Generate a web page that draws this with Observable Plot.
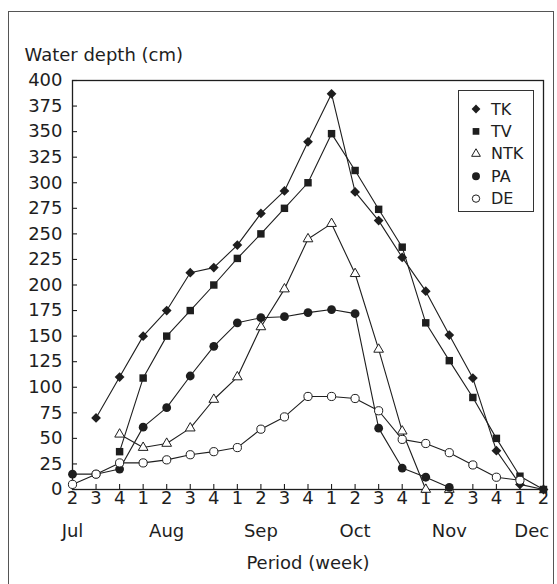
<!DOCTYPE html>
<html><head><meta charset="utf-8">
<script src="https://cdn.jsdelivr.net/npm/d3@7"></script>
<script src="https://cdn.jsdelivr.net/npm/@observablehq/plot@0.6"></script>
<style>
body{margin:0;background:#fff;}
#wrap{position:relative;width:557px;height:584px;overflow:hidden;font-family:"DejaVu Sans",sans-serif;color:#1e1e1e;background:#fff;}
#outer{position:absolute;left:8px;top:11px;width:544px;height:620px;border-left:1.3px solid #555;border-top:1.3px solid #555;border-right:1.3px solid #555;}
#chart{position:absolute;left:0;top:0;}
#legend{position:absolute;left:458px;top:90px;width:74px;height:120px;border:1.3px solid #333;background:#fff;}
</style></head><body>
<div id="wrap"><div id="outer"></div><div id="chart"></div><div id="legend"></div></div>
<script>
// ---- data ----
const weekLabels = ["2","3","4","1","2","3","4","1","2","3","4","1","2","3","4","1","2","3","4","1","2"];
const monthNames = ["Jul","Aug","Sep","Oct","Nov","Dec"];
const monthPos = [0, 4, 8, 12, 16, 19.5];
const yTicks = [0,25,50,75,100,125,150,175,200,225,250,275,300,325,350,375,400];
const seriesNames = ["TK","TV","NTK","PA","DE"];
const TK  = [null,70,110,150,175,212,217,239,270,292,340,387,291,263,227,194,151,109,38,5,0];
const TV  = [null,null,37,109,150,175,200,226,250,275,300,348,312,274,237,163,126,90,50,13,0];
const NTK = [null,null,54,41,45,60,88,110,159,196,245,260,211,137,57,0,0,null,null,null,null];
const PA  = [15,15,20,61,80,111,140,163,168,169,173,176,172,60,21,12,2,null,null,null,null];
const DE  = [5,15,26,26,29,34,37,41,59,71,91,91,89,77,49,45,36,24,12,9,null];

const seriesValues = {TK, TV, NTK, PA, DE};
const xIdx = weekLabels.map((d,i)=>i);
const data = [];
for (const s of seriesNames) seriesValues[s].forEach((v,i)=>{ if (v!=null) data.push({series:s, i, v}); });

const ink = "#1e1e1e";
const sym = {
  TK:{symbol:"diamond2", fill:ink, stroke:"none", r:4.4},
  TV:{symbol:"square", fill:ink, stroke:"none", r:4.2},
  NTK:{symbol:"triangle", fill:"white", stroke:ink, r:3.6},
  PA:{symbol:"circle", fill:ink, stroke:"none", r:4.4},
  DE:{symbol:"circle", fill:"white", stroke:ink, r:4.1}
};

const W=557, H=584, mL=72, mR=14, mT=80, mB=95;
const fw = W-mL-mR, fh = H-mT-mB;
const FS = 18;

const chart = Plot.plot({
  width: W, height: H,
  marginLeft: mL, marginRight: mR, marginTop: mT, marginBottom: mB,
  x: {domain:[0,20], axis:null},
  y: {domain:[0,400], axis:null},
  style: {fontFamily:"DejaVu Sans, sans-serif", color: ink, background:"transparent"},
  marks: [
    Plot.frame({stroke: ink, strokeWidth: 1.3}),
    Plot.tickY(yTicks, {y: d=>d, stroke: ink, strokeWidth: 1.1, insetRight: fw-5}),
    Plot.tickX(xIdx, {x: d=>d, stroke: ink, strokeWidth: 1.1, insetTop: fh-5}),
    Plot.text(yTicks, {y: d=>d, text: d=>String(d), frameAnchor:"left", dx:-10, textAnchor:"end", fontSize:FS, fill: ink}),
    Plot.text(xIdx, {x: d=>d, text: (d,i)=>weekLabels[i], frameAnchor:"bottom", dy:14, fontSize:FS, fill: ink}),
    Plot.text(monthNames, {x: (d,i)=>monthPos[i], text: d=>d, frameAnchor:"bottom", dy:47, fontSize:FS, fill: ink}),
    Plot.text(["Period (week)"], {frameAnchor:"bottom", dy:79, fontSize:FS, fill: ink}),
    Plot.text(["Water depth (cm)"], {frameAnchor:"top-left", dx:-48, dy:-32, textAnchor:"start", fontSize:FS, fill: ink}),
    ...seriesNames.map(s => Plot.line(data.filter(d=>d.series===s), {x:"i", y:"v", stroke: ink, strokeWidth: 1.1})),
    ...seriesNames.map(s => Plot.dot(data.filter(d=>d.series===s), {x:"i", y:"v", symbol: sym[s].symbol, r: sym[s].r, fill: sym[s].fill, stroke: sym[s].stroke, strokeWidth: 1}))
  ]
});
document.getElementById("chart").appendChild(chart);

// ---- legend ----
const lg = d3.select("#legend").append("svg").attr("width", 74).attr("height", 120);
const d3sym = {TK:d3.symbolDiamond2, TV:d3.symbolSquare, NTK:d3.symbolTriangle, PA:d3.symbolCircle, DE:d3.symbolCircle};
seriesNames.forEach((s,k)=>{
  const y = 18 + k*22.4;
  const r = sym[s].r*0.9;
  lg.append("path").attr("d", d3.symbol(d3sym[s], Math.PI*r*r)()).attr("transform", `translate(17,${y})`)
    .attr("fill", sym[s].fill).attr("stroke", sym[s].stroke).attr("stroke-width", 1);
  lg.append("text").attr("x", 32).attr("y", y).attr("dominant-baseline","central")
    .attr("font-size", 16).attr("font-family","DejaVu Sans, sans-serif").attr("fill", ink).text(s);
});
</script>
</body></html>
